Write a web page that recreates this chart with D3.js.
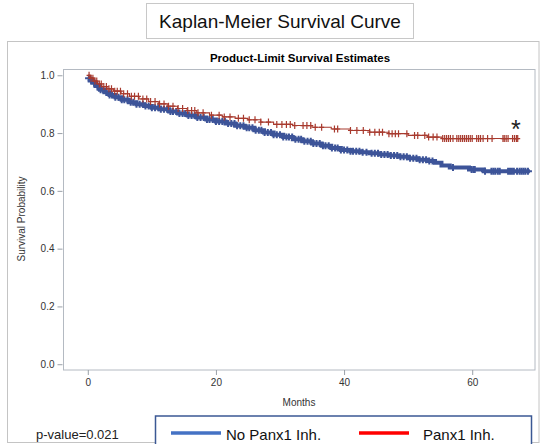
<!DOCTYPE html>
<html>
<head>
<meta charset="utf-8">
<script src="https://cdn.jsdelivr.net/npm/d3@7"></script>
<style>
  body { margin: 0; background: #fff; }
  text { font-family: "Liberation Sans", Arial, sans-serif; }
</style>
</head>
<body>
<div class="chart"></div>
<script>
// survival steps: [month, survival]
const noInhSteps = [[0,0.990],[0.3,0.982],[0.7,0.974],[1.2,0.963],[1.9,0.950],[2.6,0.941],[3.4,0.932],[4.3,0.924],
  [5.3,0.915],[6.4,0.907],[7.6,0.900],[8.8,0.894],[10,0.888],[11.3,0.882],[12.7,0.875],[14.1,0.868],[15.6,0.861],
  [17,0.854],[18.5,0.847],[20,0.840],[21.5,0.833],[23,0.825],[24.5,0.818],[26,0.810],[27.5,0.802],[29,0.794],
  [30.5,0.786],[32,0.779],[33.5,0.772],[35,0.764],[36.5,0.756],[38,0.748],[39.5,0.741],[41,0.737],[42.5,0.734],
  [44,0.730],[45.5,0.726],[47,0.722],[48.5,0.718],[50,0.713],[51.5,0.708],[53,0.703],[54.2,0.697],[55.2,0.688],
  [56.5,0.681],[59.5,0.674],[61.8,0.668]];
const noInhEnd = 69;
const noInhCensor = [0.2,0.6,1.0,1.5,2.0,2.4,2.9,3.4,3.8,4.3,4.8,5.3,5.7,6.2,6.7,7.1,7.6,8.1,8.6,9.0,9.5,10.0,10.5,
  11.0,11.4,11.9,12.4,12.9,13.3,13.8,14.3,14.8,15.2,15.7,16.2,16.7,17.1,17.6,18.1,18.6,19.0,19.5,20.0,20.5,21.0,
  21.4,21.9,22.4,22.9,23.3,23.8,24.3,24.8,25.2,25.7,26.2,26.7,27.1,27.6,28.1,28.6,29.0,29.5,30.0,30.5,31.0,31.4,
  31.9,32.4,32.9,33.3,33.8,34.3,34.8,35.2,35.7,36.2,36.7,37.1,37.6,38.1,38.6,39.0,39.5,40.0,40.5,41.0,41.4,41.9,
  42.4,42.9,43.5,44.3,44.8,45.3,45.8,46.3,46.8,47.3,47.8,48.3,48.8,49.3,49.8,50.3,50.8,51.3,51.8,52.3,52.8,53.3,
  53.8,57,59.9,60.2,60.4,62,63,63.3,63.6,64,64.3,65.6,65.9,66.2,66.5,67,67.4,67.7,68,68.3,68.7];

const inhSteps = [[0,1.0],[0.4,0.990],[0.9,0.980],[1.5,0.970],[2.2,0.961],[3,0.953],[4,0.945],[5.2,0.936],
  [6.5,0.927],[8,0.918],[9.5,0.909],[11,0.901],[12.5,0.893],[14,0.885],[15.5,0.878],[17,0.870],[19,0.862],
  [21,0.856],[23,0.851],[25,0.846],[27,0.838],[29,0.830],[32,0.826],[35,0.820],[38,0.814],[41,0.809],[44,0.803],
  [47,0.798],[50,0.792],[53,0.786],[55.3,0.781]];
const inhEnd = 67.3;
const inhCensor = [0.2,0.5,0.8,1.1,1.4,1.8,2.1,2.5,2.9,3.3,3.7,4.2,4.6,5.1,5.6,6.2,6.8,7.3,7.9,8.6,9.2,9.8,10.5,
  11.2,11.9,12.6,13.3,14.1,14.8,15.6,16.2,16.7,17.2,18,19.3,20.5,21.3,22.2,23.5,24.3,25.2,26.1,27,28.2,29.5,30.3,
  31,31.6,32.3,33.6,34.2,34.8,35.5,36.5,38.5,39,41,42,43,44,44.8,45.5,46,47,47.5,48,48.5,49.8,51,51.5,52.6,53.2,
  53.9,54.5,55.4,55.7,56,56.3,56.6,57,57.6,57.9,58.2,58.5,58.8,59.1,59.4,59.7,60,60.7,61,61.3,61.7,62.4,63.1,
  64.8,65,65.3,65.6,66.3,66.6,66.9,67.1];

const xTicks = [0, 20, 40, 60];
const yTicks = [0, 0.2, 0.4, 0.6, 0.8, 1.0];
const legendLabels = ['No Panx1 Inh.', 'Panx1 Inh.'];
const pValue = 'p-value=0.021';

const W = 540, H = 444;
const plot = {left: 63.5, top: 69.5, right: 535, bottom: 370};

const svg = d3.select('.chart').append('svg')
    .attr('width', W).attr('height', H);

// outer panel
svg.append('rect')
    .attr('x', 7.5).attr('y', 41.5).attr('width', 531.5).attr('height', 401)
    .attr('fill', 'none').attr('stroke', '#c4c4c4');

// title box
svg.append('rect')
    .attr('x', 146.5).attr('y', 3.5).attr('width', 267).attr('height', 35)
    .attr('fill', '#fff').attr('stroke', '#c8c8c8');
svg.append('text')
    .attr('x', 280).attr('y', 28)
    .attr('text-anchor', 'middle').attr('font-size', 19).attr('fill', '#111')
    .text('Kaplan-Meier Survival Curve');

svg.append('text')
    .attr('x', 300).attr('y', 62)
    .attr('text-anchor', 'middle').attr('font-size', 11.5).attr('font-weight', 'bold')
    .text('Product-Limit Survival Estimates');

const xScale = d3.scaleLinear().domain([-3.79, 69.8]).range([plot.left, plot.right]);
const yScale = d3.scaleLinear().domain([-0.02, 1.02]).range([plot.bottom, plot.top]);

svg.append('rect')
    .attr('x', plot.left).attr('y', plot.top)
    .attr('width', plot.right - plot.left).attr('height', plot.bottom - plot.top)
    .attr('fill', 'none').attr('stroke', '#b4bac2');

const xAxis = d3.axisBottom(xScale).tickValues(xTicks).tickSize(5).tickPadding(4).tickFormat(d3.format('d'));
const yAxis = d3.axisLeft(yScale).tickValues(yTicks).tickSize(5).tickPadding(3).tickFormat(d3.format('.1f'));

svg.append('g')
    .attr('class', 'x-axis')
    .attr('transform', `translate(0, ${plot.bottom})`)
    .call(xAxis);
svg.append('g')
    .attr('class', 'y-axis')
    .attr('transform', `translate(${plot.left - 1}, 0)`)
    .call(yAxis);

svg.selectAll('.domain').remove();
svg.selectAll('.tick line').attr('stroke', '#9aa0a8');
svg.selectAll('.tick text')
    .attr('font-family', '"Liberation Sans", Arial, sans-serif')
    .attr('font-size', 10).attr('fill', '#333');

svg.append('text')
    .attr('x', 299).attr('y', 406)
    .attr('text-anchor', 'middle').attr('font-size', 10).attr('fill', '#333')
    .text('Months');
svg.append('text')
    .attr('transform', 'translate(25, 219) rotate(-90)')
    .attr('text-anchor', 'middle').attr('font-size', 10).attr('fill', '#333')
    .text('Survival Probability');

// KM value at time t (last step at or before t)
const bis = d3.bisector(d => d[0]).right;
function survAt(steps, t) {
    return steps[Math.max(0, bis(steps, t) - 1)][1];
}

const line = d3.line()
    .x(d => xScale(d[0]))
    .y(d => yScale(d[1]))
    .curve(d3.curveStepAfter);

function drawGroup(steps, end, censor, color, lw, hx, hy, mw) {
    const pts = steps.concat([[end, steps[steps.length - 1][1]]]);
    const g = svg.append('g');
    g.append('path')
        .datum(pts)
        .attr('d', line)
        .attr('fill', 'none')
        .attr('stroke', color)
        .attr('stroke-width', lw);
    g.selectAll('path.cens')
        .data(censor)
        .enter()
        .append('path')
        .attr('class', 'cens')
        .attr('d', t => {
            const cx = xScale(t), cy = yScale(survAt(steps, t));
            return `M${cx - hx},${cy}H${cx + hx}M${cx},${cy - hy}V${cy + hy}`;
        })
        .attr('stroke', color)
        .attr('stroke-width', mw)
        .attr('fill', 'none');
}

drawGroup(noInhSteps, noInhEnd, noInhCensor, '#3d5499', 4, 4, 3.5, 2);
drawGroup(inhSteps, inhEnd, inhCensor, '#a83a2e', 1.1, 2.5, 3.5, 1.2);

svg.append('text')
    .attr('x', xScale(66.8)).attr('y', 138)
    .attr('text-anchor', 'middle').attr('font-size', 25).attr('fill', '#222')
    .text('*');

// p-value and legend
svg.append('text')
    .attr('x', 36).attr('y', 439)
    .attr('font-size', 13).attr('fill', '#222')
    .text(pValue);

svg.append('rect')
    .attr('x', 155.5).attr('y', 416).attr('width', 376).attr('height', 40)
    .attr('fill', '#fff').attr('stroke', '#3b5894').attr('stroke-width', 1.5);

const legendColors = ['#4472c4', '#ff0000'];
const legendX = [171, 359];
const legendTextX = [226, 423];
legendLabels.forEach((lab, i) => {
    svg.append('line')
        .attr('x1', legendX[i]).attr('x2', legendX[i] + 50)
        .attr('y1', 433).attr('y2', 433)
        .attr('stroke', legendColors[i]).attr('stroke-width', 3.5);
    svg.append('text')
        .attr('x', legendTextX[i]).attr('y', 439.5)
        .attr('font-size', 15).attr('fill', '#111')
        .text(lab);
});
</script>
</body>
</html>
